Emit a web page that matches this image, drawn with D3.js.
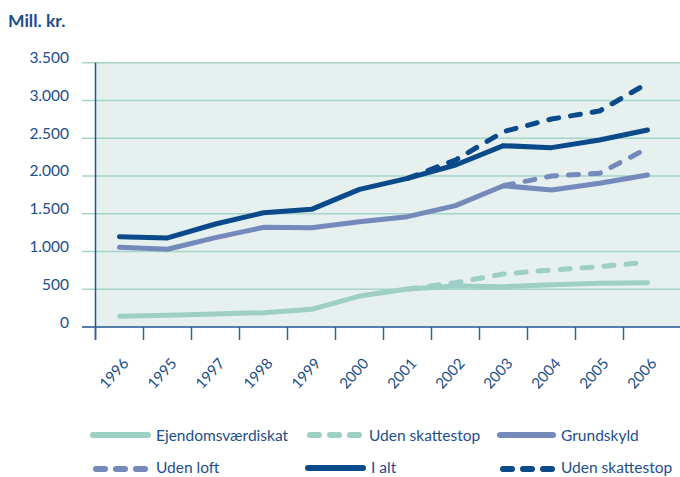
<!DOCTYPE html>
<html><head><meta charset="utf-8">
<script src="https://cdn.jsdelivr.net/npm/d3@7"></script>
<style>body{margin:0;background:#fff}svg{display:block}text{font-family:Lato,"Open Sans",sans-serif;fill:#1b4e8c}</style>
</head><body><svg id="c" width="680" height="477"></svg>
<script>
const categories = ["1996","1995","1997","1998","1999","2000","2001","2002","2003","2004","2005","2006"];
const ejendomsvaerdiskat = [142,155,172,190,234,410,503,543,534,560,578,587];
const udenSkattestopEjd = [null,null,null,null,null,null,503,587,702,755,799,857];
const grundskyld = [1055,1029,1183,1320,1315,1395,1461,1607,1871,1814,1903,2013];
const udenLoft = [null,null,null,null,null,null,null,null,1871,2000,2035,2366];
const iAlt = [1196,1180,1364,1513,1558,1823,1969,2145,2401,2375,2477,2609];
const udenSkattestopTotal = [null,null,null,null,null,null,1969,2211,2587,2754,2860,3227];
const yTicks = [0,500,1000,1500,2000,2500,3000,3500];
const yTickLabels = ["0","500","1.000","1.500","2.000","2.500","3.000","3.500"];

const cLight = "#9dcfc4", cMid = "#7589bb", cDark = "#0a4a8a";
const series = [
  {name:"Ejendomsværdiskat", values:ejendomsvaerdiskat, color:cLight, dash:false},
  {name:"Grundskyld", values:grundskyld, color:cMid, dash:false},
  {name:"I alt", values:iAlt, color:cDark, dash:false},
  {name:"Uden skattestop", values:udenSkattestopEjd, color:cLight, dash:true},
  {name:"Uden loft", values:udenLoft, color:cMid, dash:true},
  {name:"Uden skattestop", values:udenSkattestopTotal, color:cDark, dash:true}
];

const svg = d3.select("#c");
const L = 95.5, T = 62.7, B = 327;
const x = d3.scaleBand().domain(categories).range([L, L + 48*categories.length]).padding(0);
const y = d3.scaleLinear().domain([0,3500]).range([B, T]);

svg.append("rect").attr("x", L).attr("y", T).attr("width", 680-L).attr("height", B-T).attr("fill", "#e6f0ee");

svg.append("g").selectAll("line").data(yTicks.filter(d=>d>0)).join("line")
  .attr("x1", 82).attr("x2", 680).attr("y1", d=>y(d)).attr("y2", d=>y(d))
  .attr("stroke", "#a5d4c9").attr("stroke-width", 1.5);

svg.append("g").selectAll("text").data(yTicks).join("text")
  .attr("x", 69).attr("y", d=>y(d)+0.5).attr("text-anchor","end")
  .attr("font-size", 15.5).text((d,i)=>yTickLabels[i]);

svg.append("line").attr("x1", L).attr("x2", L).attr("y1", T).attr("y2", 340).attr("stroke", "#1f5491").attr("stroke-width", 1.5);
svg.append("line").attr("x1", 82).attr("x2", 680).attr("y1", B).attr("y2", B).attr("stroke", "#1f5491").attr("stroke-width", 1.5);
svg.append("g").selectAll("line").data(categories).join("line")
  .attr("x1", d=>x(d)).attr("x2", d=>x(d)).attr("y1", B).attr("y2", 340)
  .attr("stroke", "#2e63a0").attr("stroke-width", 1.5);

svg.append("g").selectAll("text").data(categories).join("text")
  .attr("transform", d=>`translate(${x(d)+x.bandwidth()/2+10},${364}) rotate(-48)`)
  .attr("text-anchor","end").attr("font-size", 15).text(d=>d);

const line = d3.line().defined(d=>d.v!=null).x(d=>x(d.c)+x.bandwidth()/2).y(d=>y(d.v));
svg.append("g").selectAll("path").data(series).join("path")
  .attr("d", s=>line(s.values.map((v,i)=>({c:categories[i], v}))))
  .attr("fill","none").attr("stroke", s=>s.color).attr("stroke-width", 5)
  .attr("stroke-linecap","round").attr("stroke-linejoin","round")
  .attr("stroke-dasharray", s=>s.dash ? "10,12" : null);

svg.append("text").attr("x", 8).attr("y", 27).attr("font-size", 17.5).attr("font-weight","bold").text("Mill. kr.");

const legendItems = [
  {s:series[0], x1:93, x2:148, y:435},
  {s:series[3], x1:307, x2:361, y:435},
  {s:series[1], x1:500, x2:553, y:435},
  {s:series[4], x1:93, x2:148, y:469},
  {s:series[2], x1:308, x2:363, y:468},
  {s:series[5], x1:500, x2:553, y:469}
];
const lg = svg.append("g").selectAll("g").data(legendItems).join("g");
lg.append("line").attr("x1", d=>d.x1+(d.s.dash?3:0)).attr("x2", d=>d.x2).attr("y1", d=>d.y).attr("y2", d=>d.y)
  .attr("stroke", d=>d.s.color).attr("stroke-width", 6).attr("stroke-linecap","round")
  .attr("stroke-dasharray", d=>d.s.dash ? "9,11" : null);
lg.append("text").attr("x", d=>d.x2+8).attr("y", d=>Math.min(d.y+6, 473)).attr("font-size", 15.5).text(d=>d.s.name);
</script></body></html>
